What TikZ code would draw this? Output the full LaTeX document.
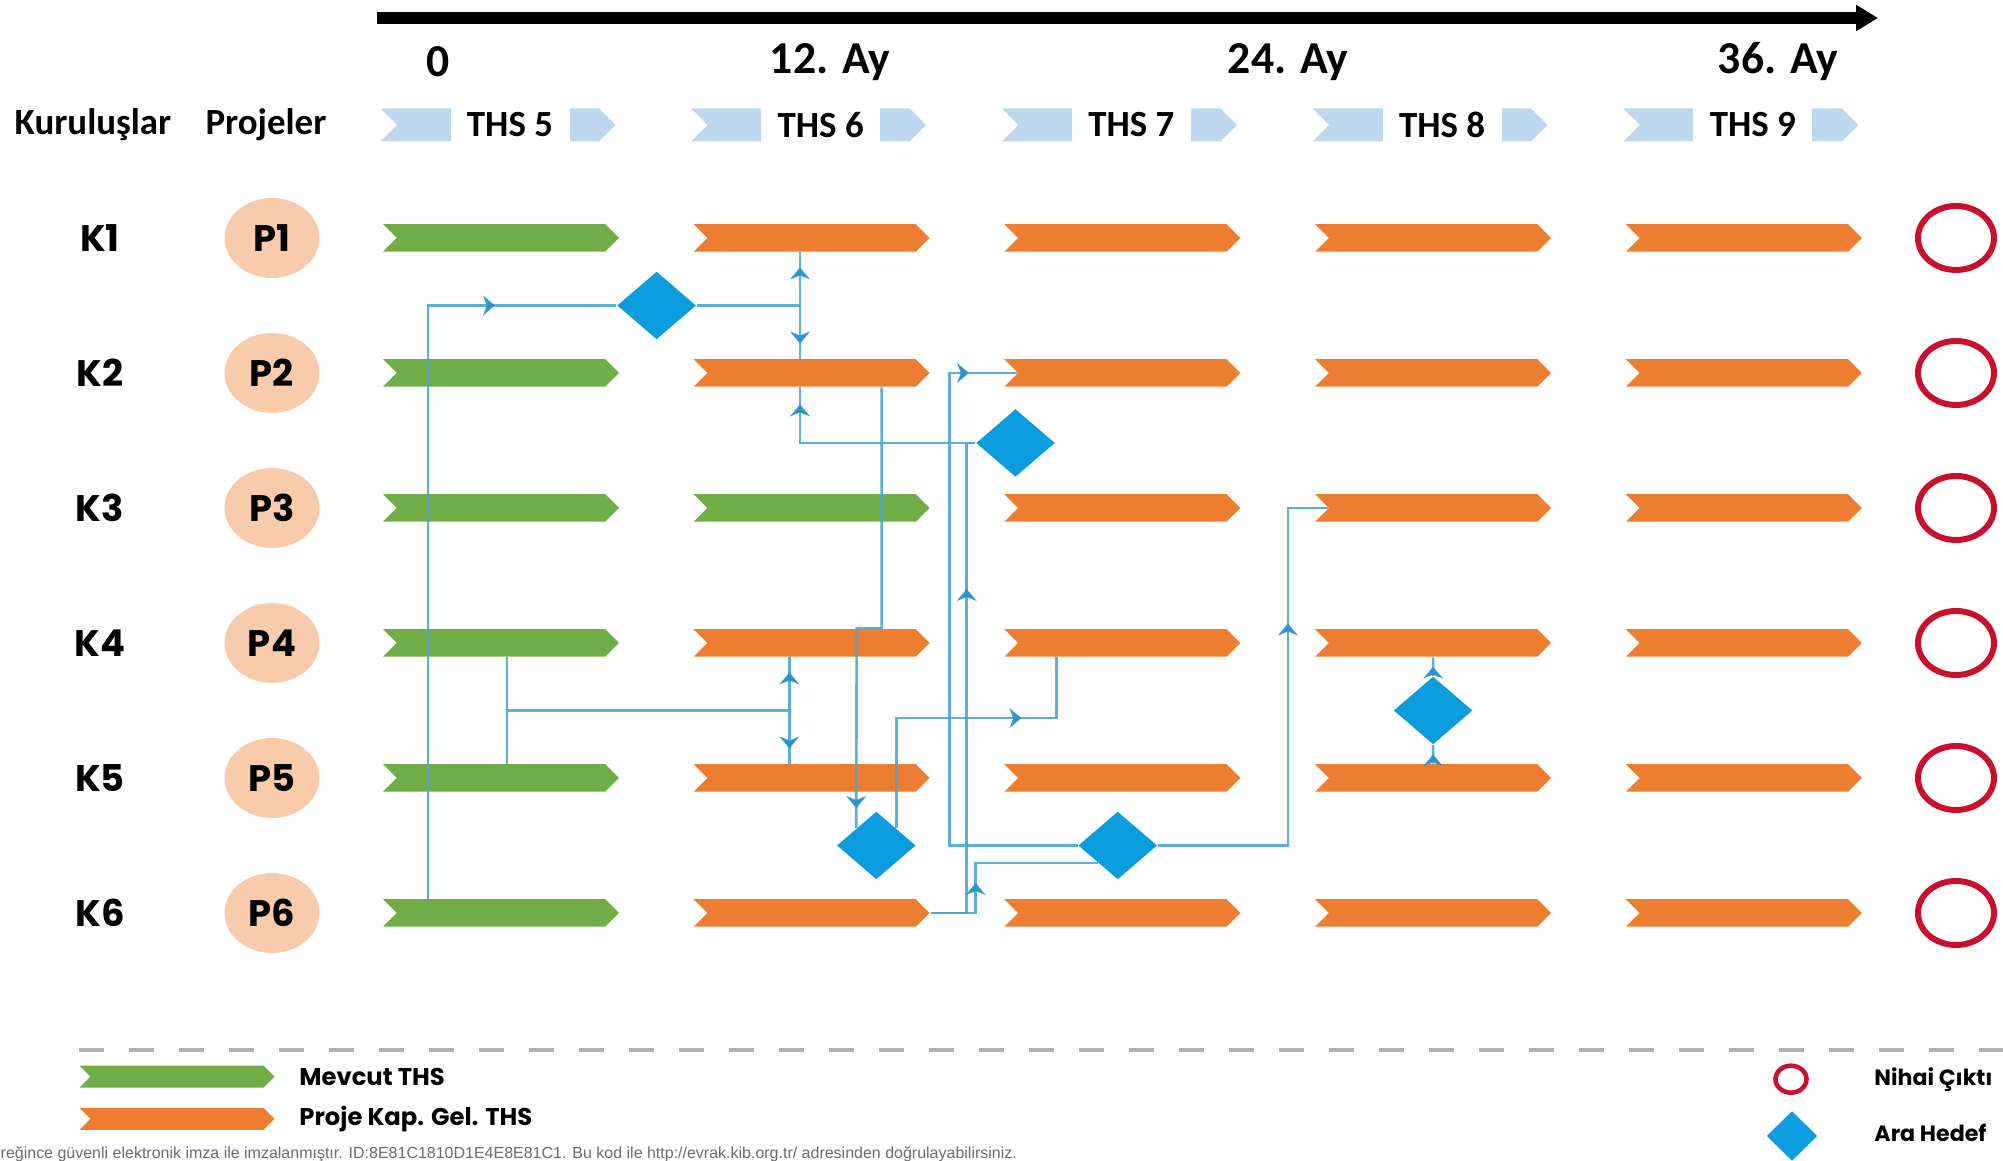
\documentclass[tikz,border=0pt]{standalone}
\usepackage{fontspec}
\setmainfont{Carlito}
\newfontfamily\popfont{Poppins}
\newfontfamily\notefont{Liberation Sans}
\usepackage{tikz}
\usetikzlibrary{decorations.markings}
\usetikzlibrary{positioning, shapes.symbols, shapes.geometric, arrows.meta}

\definecolor{thsgreen}{HTML}{70AD47}
\definecolor{thsorange}{HTML}{ED7D31}
\definecolor{thsblue}{HTML}{BDD7EE}
\definecolor{goalblue}{HTML}{0A9CDD}
\definecolor{linkblue}{HTML}{4AA6D2}
\definecolor{tipblue}{HTML}{2B93C8}
\definecolor{outred}{HTML}{C8102E}
\definecolor{projpeach}{HTML}{F8CBAD}

\begin{document}
\begin{tikzpicture}[
		node distance=3.107cm,
		bar/.style={signal, signal from=west, signal to=east, signal pointer angle=90, minimum width=2.36cm, minimum height=0.275cm, inner sep=0pt},
		mevcut/.style={bar, fill=thsgreen},
		gelisim/.style={bar, fill=thsorange},
		header/.style={signal, signal from=west, signal to=east, signal pointer angle=90, fill=thsblue, minimum width=2.35cm, minimum height=0.33cm, inner sep=0pt},
		headtext/.style={fill=white, minimum width=1.19cm, minimum height=0.36cm, inner sep=0pt, font=\bfseries\fontsize{10.5}{12}\selectfont},
		month/.style={font=\bfseries\fontsize{13}{15}\selectfont},
		kurulus/.style={font=\popfont\bfseries\fontsize{10.5}{12}\selectfont},
		proje/.style={ellipse, fill=projpeach, minimum width=0.95cm, minimum height=0.8cm, inner sep=0pt, font=\popfont\bfseries\fontsize{10.5}{12}\selectfont},
		cikti/.style={ellipse, draw=outred, line width=1.7pt, minimum width=0.76cm, minimum height=0.64cm, inner sep=0pt},
		hedef/.style={diamond, fill=goalblue, minimum width=0.79cm, minimum height=0.68cm, inner sep=0pt},
		legtext/.style={anchor=west, font=\popfont\bfseries\fontsize{6.9}{8}\selectfont},
		link/.style={draw=linkblue, line width=0.75pt, draw opacity=0.9},
		tip at/.style={postaction={decorate, decoration={markings, mark=at position #1 with {\arrow{Stealth[length=1.2mm, width=2mm, color=tipblue]}}}}}
	]

	\useasboundingbox (0,0) rectangle (20.03,11.61);

	\coordinate (tstart) at (3.77,11.43);
	\coordinate (tend) at (18.78,11.43);
	\draw[line width=3.2pt, -{Triangle[length=0.22cm, width=0.25cm]}] (tstart) -- (tend);

	\node[month] (m0) at (4.38,10.99) {0};
	\node[month] (m12) at (8.30,10.99) {12. Ay};
	\node[month] (m24) at (12.88,10.99) {24. Ay};
	\node[month] (m36) at (17.78,10.99) {36. Ay};

	\node[font=\bfseries\fontsize{10.5}{12}\selectfont] (kur) at (0.93,10.36) {Kuruluşlar};
	\node[font=\bfseries\fontsize{10.5}{12}\selectfont] (proj) at (2.66,10.36) {Projeler};

	\node[header] (h5) at (4.98,10.36) {};
	\node[header, right of=h5] (h6) {};
	\node[header, right of=h6] (h7) {};
	\node[header, right of=h7] (h8) {};
	\node[header, right of=h8] (h9) {};
	\node[headtext] (t5) at ([xshift=0.12cm]h5.center) {THS 5};
	\node[headtext] (t6) at ([xshift=0.12cm]h6.center) {THS 6};
	\node[headtext] (t7) at ([xshift=0.12cm]h7.center) {THS 7};
	\node[headtext] (t8) at ([xshift=0.12cm]h8.center) {THS 8};
	\node[headtext] (t9) at ([xshift=0.12cm]h9.center) {THS 9};

	\node[kurulus] (k1) at (1.0,9.23) {K1};
	\node[proje] (p1) at (2.72,9.23) {P1};
	\node[mevcut] (b11) at (5.01,9.23) {};
	\node[gelisim, right of=b11] (b12) {};
	\node[gelisim, right of=b12] (b13) {};
	\node[gelisim, right of=b13] (b14) {};
	\node[gelisim, right of=b14] (b15) {};
	\node[cikti] (n1) at (19.56,9.23) {};

	\node[kurulus] (k2) at (1.0,7.88) {K2};
	\node[proje] (p2) at (2.72,7.88) {P2};
	\node[mevcut] (b21) at (5.01,7.88) {};
	\node[gelisim, right of=b21] (b22) {};
	\node[gelisim, right of=b22] (b23) {};
	\node[gelisim, right of=b23] (b24) {};
	\node[gelisim, right of=b24] (b25) {};
	\node[cikti] (n2) at (19.56,7.88) {};

	\node[kurulus] (k3) at (1.0,6.53) {K3};
	\node[proje] (p3) at (2.72,6.53) {P3};
	\node[mevcut] (b31) at (5.01,6.53) {};
	\node[mevcut, right of=b31] (b32) {};
	\node[gelisim, right of=b32] (b33) {};
	\node[gelisim, right of=b33] (b34) {};
	\node[gelisim, right of=b34] (b35) {};
	\node[cikti] (n3) at (19.56,6.53) {};

	\node[kurulus] (k4) at (1.0,5.18) {K4};
	\node[proje] (p4) at (2.72,5.18) {P4};
	\node[mevcut] (b41) at (5.01,5.18) {};
	\node[gelisim, right of=b41] (b42) {};
	\node[gelisim, right of=b42] (b43) {};
	\node[gelisim, right of=b43] (b44) {};
	\node[gelisim, right of=b44] (b45) {};
	\node[cikti] (n4) at (19.56,5.18) {};

	\node[kurulus] (k5) at (1.0,3.83) {K5};
	\node[proje] (p5) at (2.72,3.83) {P5};
	\node[mevcut] (b51) at (5.01,3.83) {};
	\node[gelisim, right of=b51] (b52) {};
	\node[gelisim, right of=b52] (b53) {};
	\node[gelisim, right of=b53] (b54) {};
	\node[gelisim, right of=b54] (b55) {};
	\node[cikti] (n5) at (19.56,3.83) {};

	\node[kurulus] (k6) at (1.0,2.48) {K6};
	\node[proje] (p6) at (2.72,2.48) {P6};
	\node[mevcut] (b61) at (5.01,2.48) {};
	\node[gelisim, right of=b61] (b62) {};
	\node[gelisim, right of=b62] (b63) {};
	\node[gelisim, right of=b63] (b64) {};
	\node[gelisim, right of=b64] (b65) {};
	\node[cikti] (n6) at (19.56,2.48) {};

	\node[hedef] (d1) at (6.566,8.555) {};
	\node[hedef] (d2) at (10.155,7.18) {};
	\node[hedef] (d3) at (8.763,3.155) {};
	\node[hedef] (d4) at (11.177,3.155) {};
	\node[hedef] (d5) at (14.331,4.505) {};

	\coordinate (j1) at (8.0,8.555);
	\coordinate (j2) at (5.07,4.505);
	\coordinate (j3) at (7.894,4.505);

	\draw[link, tip at=6.6cm] ([xshift=-0.73cm]b61.north) |- (d1);
	\draw[link] (d1) -- (j1);
	\draw[link, tip at=-0.15cm] (j1) -- (j1 |- b12.south);
	\draw[link, tip at=-0.15cm] (j1) -- (j1 |- b22.north);
	\draw[link, tip at=-0.17cm] (d2) -| (j1 |- b22.south);
	\draw[link, tip at=-0.2cm] ([xshift=0.7cm]b22.south) |- ([xshift=0.45cm]b42.north) -- (d3.north west);
	\draw[link] ([xshift=0.06cm]b41.south) -- ([xshift=0.06cm]b51.north);
	\draw[link] (j2) -- (j3);
	\draw[link, tip at=-0.15cm] (j3) -- (j3 |- b42.south);
	\draw[link, tip at=-0.15cm] (j3) -- (j3 |- b52.north);
	\draw[link, tip at=2.35cm] (d3.north east) -- ++(0,1.1) -| ([xshift=-0.66cm]b43.south);
	\draw[link, tip at=6.2cm] (d4.west) -- ++(-1.28,0) |- (b23.west);
	\draw[link, tip at=3.6cm] (b62.east) -- ++(0.36,0) |- (d2.west);
	\draw[link, tip at=0.75cm] (b62.east) -- ++(0.45,0) |- (d4.south west);
	\draw[link, tip at=3.52cm] (d4.east) -- ++(1.3,0) |- (b34.west);
	\draw[link, tip at=0.5] (d5) -- (b44.south);
	\draw[link, tip at=0.5] (b54.north) -- (d5);

	\coordinate (sepl) at (0.79,1.111);
	\coordinate (sepr) at (20.03,1.111);
	\draw[gray!60, line width=1pt, dash pattern=on 0.25cm off 0.25cm] (sepl) -- (sepr);

	\node[mevcut, minimum width=1.95cm, minimum height=0.22cm] (lg1) at (1.77,0.843) {};
	\node[legtext] (lt1) at (2.87,0.843) {Mevcut THS};
	\node[gelisim, minimum width=1.95cm, minimum height=0.22cm] (lg2) at (1.77,0.42) {};
	\node[legtext] (lt2) at (2.87,0.42) {Proje Kap. Gel. THS};
	\node[cikti, line width=1.3pt, minimum width=0.31cm, minimum height=0.27cm] (lg3) at (17.91,0.818) {};
	\node[legtext, font=\popfont\bfseries\fontsize{6.3}{8}\selectfont] (lt3) at (18.62,0.818) {Nihai Çıktı};
	\node[hedef, minimum width=0.51cm, minimum height=0.5cm] (lg4) at (17.92,0.25) {};
	\node[legtext, font=\popfont\bfseries\fontsize{6.3}{8}\selectfont] (lt4) at (18.62,0.28) {Ara Hedef};

	\node[anchor=west, inner sep=0pt, font=\notefont\fontsize{4.55}{5}\selectfont, text=gray!85!black] (imza) at (0,0.065) {reğince güvenli elektronik imza ile imzalanmıştır. ID:8E81C1810D1E4E8E81C1. Bu kod ile http://evrak.kib.org.tr/ adresinden doğrulayabilirsiniz.};
\end{tikzpicture}
\end{document}
